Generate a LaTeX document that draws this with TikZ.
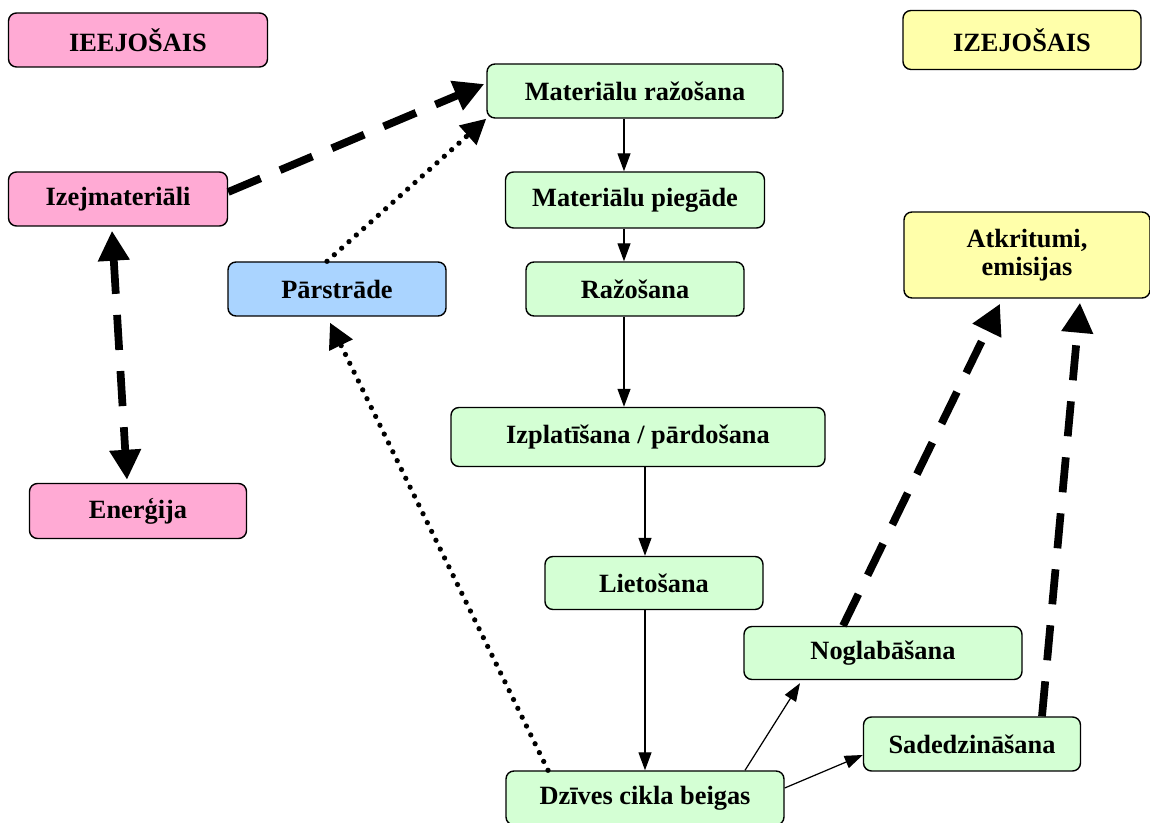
\documentclass[tikz,border=0pt]{standalone}
\usepackage{fontspec}
\setmainfont{Liberation Serif}
\usetikzlibrary{arrows.meta}
\definecolor{pinkbox}{RGB}{255,170,212}
\definecolor{greenbox}{RGB}{212,255,212}
\definecolor{bluebox}{RGB}{170,212,255}
\definecolor{yellowbox}{RGB}{255,255,170}
\begin{document}
\begin{tikzpicture}[
    box/.style={draw, line width=0.8pt, rounded corners=0.16cm, minimum height=1.08cm,
                inner sep=2pt, align=center, font=\bfseries\fontsize{15}{16}\selectfont},
    flow/.style={-{Triangle[length=0.36cm, width=0.26cm]}, line width=0.7pt},
    bigdash/.style={-{Triangle[length=0.6cm, width=0.6cm]}, line width=4.4pt,
                    dash pattern=on 20pt off 12pt},
    bigdots/.style={-{Triangle[length=0.5cm, width=0.5cm]}, line width=3pt,
                    line cap=round, dash pattern=on 0pt off 5.6pt}
]
    \useasboundingbox (0,0) rectangle (23,16.46);

    % Input and output headers
    \node[box, fill=pinkbox, minimum width=5.18cm] (ieej) at (2.76,15.66) {IEEJOŠAIS};
    \node[box, fill=yellowbox, minimum width=4.76cm, minimum height=1.18cm] (izej) at (20.44,15.66) {IZEJOŠAIS};

    % Inputs
    \node[box, fill=pinkbox, minimum width=4.38cm] (izejmat) at (2.36,12.48) {Izejmateriāli};
    \node[box, fill=pinkbox, minimum width=4.34cm, minimum height=1.1cm] (energ) at (2.76,6.24) {Enerģija};

    % Recycling
    \node[box, fill=bluebox, minimum width=4.36cm] (parstr) at (6.74,10.68) {Pārstrāde};

    % Life cycle chain
    \node[box, fill=greenbox, minimum width=5.92cm] (matraz) at (12.70,14.64) {Materiālu ražošana};
    \node[box, fill=greenbox, minimum width=5.18cm, minimum height=1.12cm] (pieg) at (12.70,12.46) {Materiālu piegāde};
    \node[box, fill=greenbox, minimum width=4.36cm] (razo) at (12.70,10.68) {Ražošana};
    \node[box, fill=greenbox, minimum width=7.48cm, minimum height=1.18cm] (izpl) at (12.76,7.72) {Izplatīšana / pārdošana};
    \node[box, fill=greenbox, minimum width=4.36cm, minimum height=1.06cm] (liet) at (13.08,4.80) {Lietošana};
    \node[box, fill=greenbox, minimum width=5.56cm] (dziv) at (12.90,0.50) {Dzīves cikla beigas};

    % End of life
    \node[box, fill=greenbox, minimum width=5.56cm, minimum height=1.06cm] (nogl) at (17.66,3.40) {Noglabāšana};
    \node[box, fill=greenbox, minimum width=4.34cm] (sadedz) at (19.44,1.58) {Sadedzināšana};

    % Outputs
    \node[box, fill=yellowbox, minimum width=4.92cm, minimum height=1.72cm] (atkr) at (20.54,11.36) {Atkritumi,\\emisijas};

    % Main flow
    \draw[flow] ([xshift=-0.22cm]matraz.south) -- ([xshift=-0.22cm]pieg.north);
    \draw[flow] ([xshift=-0.22cm]pieg.south) -- ([xshift=-0.22cm]razo.north);
    \draw[flow] ([xshift=-0.22cm]razo.south) -- ([xshift=-0.22cm]razo.south |- izpl.north);
    \draw[flow] ([xshift=0.14cm]izpl.south) -- ([xshift=0.14cm]izpl.south |- liet.north);
    \draw[flow] ([xshift=-0.18cm]liet.south) -- ([xshift=-0.18cm]liet.south |- dziv.north);
    \draw[flow] ([xshift=2.0cm]dziv.north) -- ([xshift=-1.66cm, yshift=-0.06cm]nogl.south);
    \draw[flow] ([yshift=0.2cm]dziv.east) -- ([yshift=-0.22cm]sadedz.west);

    % Raw materials and energy
    \draw[bigdash] ([yshift=0.14cm]izejmat.east) -- ([yshift=0.14cm, xshift=-0.04cm]matraz.west);
    \draw[bigdash, {Triangle[length=0.6cm, width=0.6cm]}-{Triangle[length=0.6cm, width=0.6cm]}]
        ([xshift=-0.12cm, yshift=-0.08cm]izejmat.south) -- ([xshift=-0.22cm, yshift=0.06cm]energ.north);

    % Recycling loop
    \draw[bigdots] ([xshift=-0.2cm]parstr.north) -- (matraz.south west);
    \draw[bigdots] ([xshift=-1.94cm]dziv.north) -- ([xshift=-0.14cm, yshift=-0.12cm]parstr.south);

    % Waste and emissions
    \draw[bigdash] ([xshift=-0.8cm]nogl.north) -- ([xshift=-0.54cm, yshift=-0.1cm]atkr.south);
    \draw[bigdash] ([xshift=1.4cm]sadedz.north) -- ([xshift=1.06cm, yshift=-0.08cm]atkr.south);
\end{tikzpicture}
\end{document}
